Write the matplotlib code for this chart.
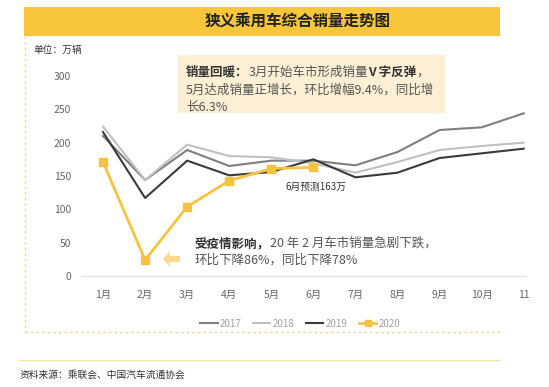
import matplotlib
matplotlib.use("Agg")
import matplotlib.pyplot as plt
from matplotlib.patches import Rectangle, FancyArrow
from matplotlib.lines import Line2D
from matplotlib.text import Annotation

plt.rcParams['font.family'] = ['Noto Sans CJK SC', 'DejaVu Sans']

months = ["1月", "2月", "3月", "4月", "5月", "6月", "7月", "8月", "9月", "10月", "11"]
s2017 = [210, 144, 189, 165, 173, 173, 166, 186, 219, 223, 244]
s2018 = [224, 144, 197, 180, 178, 169, 155, 171, 189, 195, 200]
s2019 = [216, 117, 173, 151, 156, 175, 148, 155, 177, 184, 191]
s2020 = [171, 24, 104, 143, 161, 163]
yticks = [0, 50, 100, 150, 200, 250, 300]

W, H = 549, 387
fig = plt.figure(figsize=(W / 100, H / 100), dpi=100)
fig.patch.set_facecolor('white')

def fx(px):
    return px / W

def fy(py):
    return 1 - py / H

# Title band
fig.patches.append(Rectangle((fx(24), fy(36)), fx(500) - fx(24), fy(7) - fy(36),
                             transform=fig.transFigure, facecolor='#F8C63A', edgecolor='none', zorder=0))
fig.text(fx(298), fy(21.5), "狭义乘用车综合销量走势图", ha='center', va='center',
         fontsize=11.2, fontweight='bold', color='#222222')

# dashed frame
fig.add_artist(Line2D([fx(25), fx(25)], [fy(36), fy(332)], transform=fig.transFigure,
                      color='#EED9A8', lw=1, ls=(0, (2, 2))))
fig.add_artist(Line2D([fx(25), fx(500)], [fy(332), fy(332)], transform=fig.transFigure,
                      color='#EED9A8', lw=1, ls=(0, (2, 2))))
# separator
fig.add_artist(Line2D([fx(20), fx(500)], [fy(360), fy(360)], transform=fig.transFigure,
                      color='#F5E3A0', lw=1))
fig.text(fx(20), fy(375), "资料来源：乘联会、中国汽车流通协会", ha='left', va='center',
         fontsize=7, color='#333333')
fig.text(fx(33), fy(50), "单位：万辆", ha='left', va='center', fontsize=7, color='#333333')

# axes
ax = fig.add_axes([fx(82), fy(276), fx(525) - fx(82), fy(76) - fy(276)])
ax.set_facecolor('none')
x = list(range(1, len(months) + 1))
ax.plot(x, s2017, color='#7F7F7F', lw=1.5, label='2017', zorder=2)
ax.plot(x, s2018, color='#C0C0C0', lw=1.5, label='2018', zorder=2)
ax.plot(x, s2019, color='#3A3A3A', lw=1.5, label='2019', zorder=2)
ax.plot(x[:len(s2020)], s2020, color='#F5C342', lw=2, marker='s', markersize=5.5,
        label='2020', zorder=3)
ax.set_xlim(0.5, 11.03)
ax.set_ylim(0, 300)
ax.set_xticks(x)
ax.set_xticklabels(months)
ax.set_yticks(yticks)
for s in ['top', 'right', 'left']:
    ax.spines[s].set_visible(False)
ax.spines['bottom'].set_color('#DDDDDD')
ax.tick_params(axis='both', length=0, labelsize=7.5, colors='#666666')
ax.tick_params(axis='x', pad=10)
ax.tick_params(axis='y', pad=8)

leg = ax.legend(loc='upper center', bbox_to_anchor=(fx(300 - 82) / (fx(525) - fx(82)), -0.17),
                ncol=4, frameon=False, fontsize=7, handlelength=1.8, handletextpad=0.2,
                columnspacing=1.2, markerscale=0.8)
for t in leg.get_texts():
    t.set_color('#A0A0A0')

# annotation box 1
fig.patches.append(Rectangle((fx(178), fy(113)), fx(445) - fx(178), fy(55) - fy(113),
                             transform=fig.transFigure, facecolor='#FCEFD3', edgecolor='none', zorder=4))


def rich(xp, yp, parts, size=9):
    prev = None
    for txt, bold, col in parts:
        w = 'bold' if bold else 'normal'
        if prev is None:
            prev = fig.text(fx(xp), fy(yp), txt, ha='left', va='baseline', fontsize=size,
                            fontweight=w, color=col, zorder=5)
        else:
            a = Annotation(txt, xy=(1, 0), xycoords=prev, ha='left', va='bottom',
                           fontsize=size, fontweight=w, color=col, zorder=5,
                           annotation_clip=False)
            fig.add_artist(a)
            prev = a

dark = '#333333'
grey = '#555555'
rich(186, 76, [("销量回暖：", True, dark), ("3月开始车市形成销量", False, grey),
               ("V 字反弹", True, dark), ("，", False, grey)])
rich(186, 94, [("5月达成销量正增长，环比增幅9.4%，同比增", False, grey)])
rich(186, 110, [("长6.3%", False, grey)])

rich(195, 247, [("受疫情影响，", True, dark), ("20 年 2 月车市销量急剧下跌，", False, grey)])
rich(195, 264, [("环比下降86%，同比下降78%", False, grey)])

fig.text(fx(285), fy(187), "6月预测163万", ha='left', va='center', fontsize=7, color='#333333')

# block arrow
arr = FancyArrow(fx(180), fy(259), fx(163) - fx(180), 0, width=0.016, head_width=0.04,
                 head_length=0.012, length_includes_head=True, transform=fig.transFigure,
                 facecolor='#FBD98C', edgecolor='none', zorder=5)
fig.patches.append(arr)

fig.savefig('out.png', dpi=100, facecolor='white')
